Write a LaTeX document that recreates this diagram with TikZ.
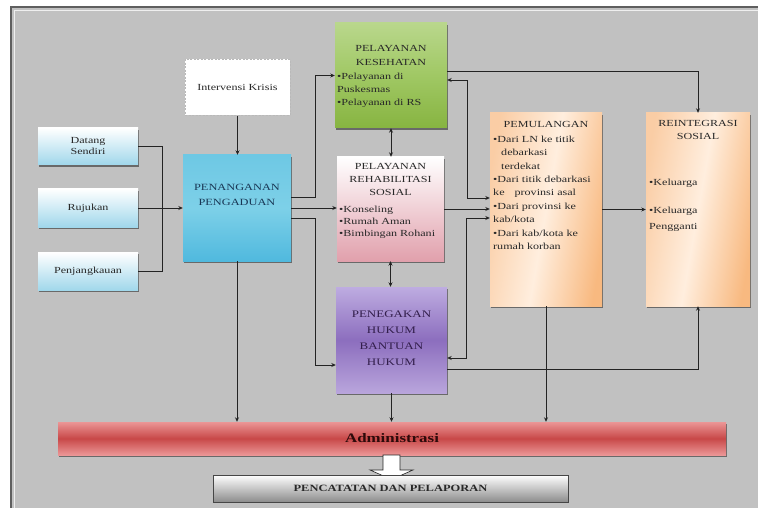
\documentclass[tikz,border=0pt]{standalone}
\usepackage{fontspec}
\setmainfont{Liberation Serif}[FakeStretch=1.3]
\usetikzlibrary{arrows.meta,shadows,calc}

\definecolor{bg}{RGB}{193,193,193}
\definecolor{frameline}{RGB}{95,95,95}
\definecolor{lnc}{RGB}{35,35,35}
\definecolor{txt}{RGB}{40,40,40}
\definecolor{lbbot}{RGB}{160,215,235}
\definecolor{pptop}{RGB}{110,200,228}
\definecolor{ppmid}{RGB}{125,208,232}
\definecolor{ppbot}{RGB}{80,185,222}
\definecolor{pptxt}{RGB}{25,55,85}
\definecolor{pktop}{RGB}{185,215,140}
\definecolor{pkbot}{RGB}{135,180,65}
\definecolor{pkmid}{RGB}{160,200,100}
\definecolor{prbot}{RGB}{225,160,172}
\definecolor{phtop}{RGB}{190,172,225}
\definecolor{phmid}{RGB}{140,110,190}
\definecolor{phbot}{RGB}{185,165,220}
\definecolor{phtxt}{RGB}{50,30,75}
\definecolor{orl}{RGB}{250,205,165}
\definecolor{orm}{RGB}{255,238,222}
\definecolor{orr}{RGB}{248,185,128}
\definecolor{admout}{RGB}{235,150,150}
\definecolor{admmid}{RGB}{200,72,72}
\definecolor{admtxt}{RGB}{45,10,10}
\definecolor{pcbot}{RGB}{140,140,140}

\begin{document}
\begin{tikzpicture}[x=1pt,y=-1pt,
  font=\fontsize{9.3}{12}\selectfont,
  bx/.style={inner sep=0pt, text=txt, align=center,
    drop shadow={shadow xshift=1.2pt, shadow yshift=-1.6pt, fill=black, opacity=0.45}},
  lightblue/.style={bx, top color=white, bottom color=lbbot},
  tl/.style={inner sep=0pt, text=txt, align=center},
  bl/.style={inner sep=0pt, text=txt, align=left, anchor=north west},
  ln/.style={draw=lnc, line width=0.8pt},
  arr/.style={ln, -{Stealth[length=4.5pt,width=4pt]}},
  darr/.style={ln, {Stealth[length=4.5pt,width=4pt]}-{Stealth[length=4.5pt,width=4pt]}}
]
\useasboundingbox (0,0) rectangle (758,508);
\fill[white] (0,0) rectangle (758,508);
\fill[bg] (10,6) rectangle (758,508);
\draw[frameline, line width=1.6pt] (10.8,508) -- (10.8,6.8) -- (758,6.8);
\draw[white!75!bg, line width=0.8pt] (14,508) -- (14,10) -- (758,10);

% left input boxes
\node[lightblue, minimum width=100pt, minimum height=37pt,
  font=\fontsize{9.3}{11}\selectfont] (ds) at (88,146.5) {Datang\\Sendiri};
\node[lightblue, minimum width=100pt, minimum height=38pt] (rj) at (88,208) {Rujukan};
\node[lightblue, minimum width=100pt, minimum height=38pt] (pj) at (88,271.5) {Penjangkauan};

% intervensi krisis
\node[inner sep=0pt, fill=white, draw=gray!55, line width=0.8pt,
  dash pattern=on 2pt off 1.5pt, minimum width=105pt, minimum height=56pt,
  text=txt] (ik) at (237.5,87.5) {Intervensi Krisis};

% penanganan pengaduan
\node[bx, top color=pptop, bottom color=ppbot, middle color=ppmid,
  minimum width=108pt, minimum height=106pt] (pp) at (237,208) {};
\node[tl, text=pptxt, font=\fontsize{9.5}{15}\selectfont] (ppt) at (237,194.5)
  {PENANGANAN\\PENGADUAN};

% pelayanan kesehatan
\node[bx, top color=pktop, bottom color=pkbot, middle color=pkmid,
  minimum width=112pt, minimum height=105pt] (pk) at (391,75.5) {};
\node[tl, font=\fontsize{9.3}{14}\selectfont] (pkt) at (391,55) {PELAYANAN\\KESEHATAN};
\node[bl, font=\fontsize{9.3}{13}\selectfont] (pkb) at (337,72.7)
  {•Pelayanan di\\Puskesmas\\•Pelayanan di RS};

% pelayanan rehabilitasi sosial
\node[bx, top color=white, bottom color=prbot,
  minimum width=107pt, minimum height=104pt] (pr) at (390.5,209) {};
\node[tl, font=\fontsize{9.3}{13}\selectfont] (prt) at (390.5,179)
  {PELAYANAN\\REHABILITASI\\SOSIAL};
\node[bl, font=\fontsize{9.3}{12}\selectfont] (prb) at (339,205.7)
  {•Konseling\\•Rumah Aman\\•Bimbingan Rohani};

% penegakan hukum
\node[bx, top color=phtop, bottom color=phbot, middle color=phmid,
  minimum width=111pt, minimum height=106pt] (ph) at (391.5,340) {};
\node[tl, text=phtxt, font=\fontsize{10}{16}\selectfont] (pht) at (391.5,338)
  {PENEGAKAN\\HUKUM\\BANTUAN\\HUKUM};

% pemulangan
\node[bx, left color=orl, right color=orr, middle color=orm, shading angle=80,
  minimum width=112pt, minimum height=193pt] (pm) at (546,209.5) {};
\node[tl] (pmt) at (546,124) {PEMULANGAN};
\node[bl, font=\fontsize{9.3}{13.4}\selectfont] (pmb) at (493,135.7)
  {•Dari LN ke titik\\\hspace*{8pt}debarkasi\\\hspace*{8pt}terdekat\\
   •Dari titik debarkasi\\ke\hspace{10pt}provinsi asal\\•Dari provinsi ke\\
   kab/kota\\•Dari kab/kota ke\\rumah korban};

% reintegrasi sosial
\node[bx, left color=orl, right color=orr, middle color=orm, shading angle=80,
  minimum width=104pt, minimum height=193pt] (rs) at (698,209.5) {};
\node[tl, font=\fontsize{9.3}{13}\selectfont] (rst) at (698,130) {REINTEGRASI\\SOSIAL};
\node[bl] (rsa) at (649,178.7) {•Keluarga};
\node[bl, font=\fontsize{9.3}{16}\selectfont] (rsb) at (649,206.7) {•Keluarga\\Pengganti};

% administrasi
\node[bx, top color=admout, bottom color=admout, middle color=admmid,
  minimum width=668pt, minimum height=33pt, text=admtxt,
  font=\fontsize{13}{15}\selectfont\bfseries] (adm) at (392,438.5) {Administrasi};

% hollow arrow
\draw[fill=white, draw=gray!30!black, line width=0.6pt]
  (383,455) -- (400,455) -- (400,470) -- (413,470) -- (391.5,479.5)
  -- (370,470) -- (383,470) -- cycle;

% pencatatan
\node[inner sep=0pt, top color=white, bottom color=pcbot,
  draw=gray!55!black, line width=0.6pt,
  minimum width=355pt, minimum height=27pt, text=txt,
  font=\fontsize{9.6}{11}\selectfont\bfseries] (pc) at (390.5,488.5)
  {PENCATATAN DAN PELAPORAN};

% connectors
\coordinate (jn) at (162,208);
\draw[ln] (ds.east) -| (jn);
\draw[ln] (pj.east) -| (jn);
\draw[arr] (rj.east) -- (pp.west);
\draw[arr] (ik.south) -- (ik.south |- pp.north);
\draw[arr] ([yshift=11pt]pp.east) -- ++(24,0) |- (pk.west);
\draw[arr] (pp.east) -- (pp.east -| pr.west);
\draw[arr] ([yshift=-10pt]pp.east) -- ++(24,0) |- ([yshift=-25pt]ph.west);
\draw[arr] (pp.south) -- (pp.south |- adm.north);
\draw[darr] (pk.south) -- (pk.south |- pr.north);
\draw[darr] (pr.south) -- (pr.south |- ph.north);
\draw[arr] (ph.south) -- (ph.south |- adm.north);
\draw[darr] ([yshift=-4.5pt]pk.east) -- ++(20,0) |- ([yshift=11.5pt]pm.west);
\draw[arr] (pr.east) -- (pr.east -| pm.west);
\draw[darr] ([yshift=-8.5pt]pm.west) -- ++(-23,0) |- ([yshift=-18pt]ph.east);
\draw[arr] ([yshift=4.5pt]pk.east) -| (rs.north);
\draw[arr] (pm.east) -- (pm.east -| rs.west);
\draw[arr] ([yshift=-29pt]ph.east) -| (rs.south);
\draw[arr] (pm.south) -- (pm.south |- adm.north);
\end{tikzpicture}
\end{document}
